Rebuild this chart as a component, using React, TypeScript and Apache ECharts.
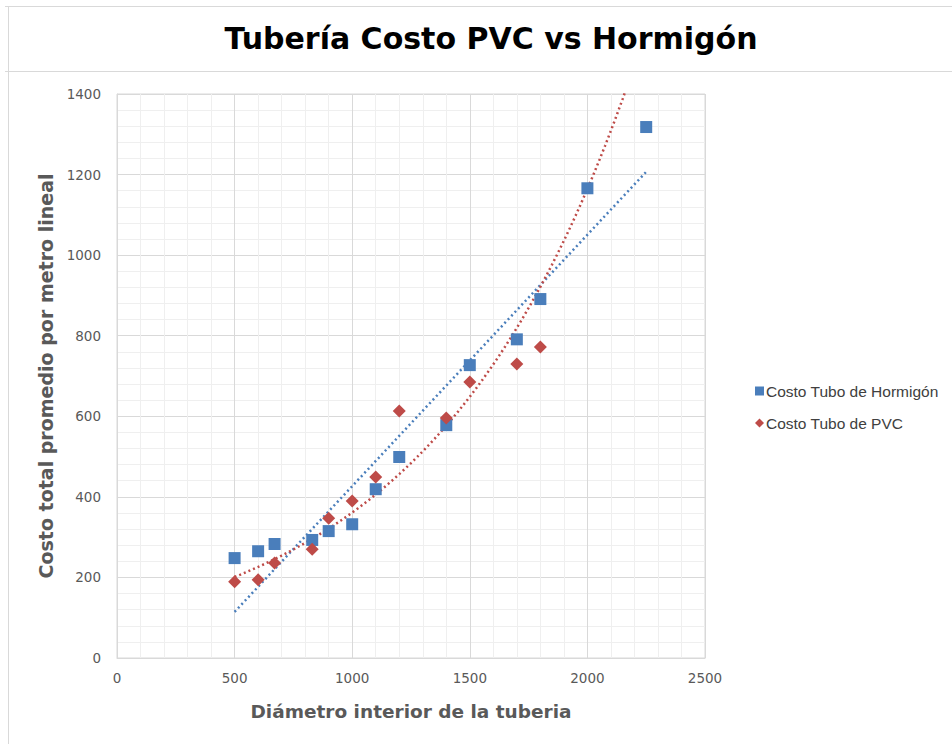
import React, { useEffect, useRef } from "react";
import * as echarts from "echarts";

const titleText = "Tubería Costo PVC vs Hormigón";
const xAxisTitle = "Diámetro interior de la tuberia";
const yAxisTitle = "Costo total promedio por metro lineal";
const seriesHormigon = "Costo Tubo de Hormigón";
const seriesPVC = "Costo Tubo de PVC";

const hormigonX = [500, 600, 670, 830, 900, 1000, 1100, 1200, 1400, 1500, 1700, 1800, 2000, 2250];
const hormigonY = [248, 265, 283, 293, 315, 332, 419, 499, 578, 727, 791, 891, 1166, 1318];

const pvcX = [500, 600, 670, 830, 900, 1000, 1100, 1200, 1400, 1500, 1700, 1800];
const pvcY = [189, 194, 236, 270, 347, 390, 449, 613, 596, 685, 730, 772];

const trendStart = 500;
const trendEnd = 2250;

function linearFit(xs: number[], ys: number[]) {
  const n = xs.length;
  const mx = xs.reduce((a, b) => a + b, 0) / n;
  const my = ys.reduce((a, b) => a + b, 0) / n;
  let sxy = 0, sxx = 0;
  for (let i = 0; i < n; i++) {
    sxy += (xs[i] - mx) * (ys[i] - my);
    sxx += (xs[i] - mx) * (xs[i] - mx);
  }
  const b = sxy / sxx;
  return { a: my - b * mx, b };
}

function expFit(xs: number[], ys: number[]) {
  const f = linearFit(xs, ys.map((v) => Math.log(v)));
  return (x: number) => Math.exp(f.a + f.b * x);
}

export default function App() {
  const ref = useRef<HTMLDivElement>(null);
  useEffect(() => {
    if (!ref.current) return;
    const chart = echarts.init(ref.current, undefined, { renderer: "svg" });
    const lin = linearFit(hormigonX, hormigonY);
    const linTrend = [
      [trendStart, lin.a + lin.b * trendStart],
      [trendEnd, lin.a + lin.b * trendEnd],
    ];
    const ef = expFit(pvcX, pvcY);
    const expTrend: number[][] = [];
    for (let i = 0; i <= 70; i++) {
      const x = trendStart + ((trendEnd - trendStart) * i) / 70;
      expTrend.push([x, ef(x)]);
    }
    const blue = "#4A7EBB";
    const red = "#BE4B48";
    const plain = (v: number) => String(v);
    chart.setOption({
      animation: false,
      backgroundColor: "#ffffff",
      title: {
        text: titleText,
        left: 486,
        textAlign: "center",
        top: 18,
        textStyle: {
          fontFamily: "DejaVu Sans",
          fontWeight: "bold",
          fontSize: 30,
          color: "#000000",
        },
      },
      graphic: [
        { type: "line", shape: { x1: 5, y1: 6.5, x2: 952, y2: 6.5 }, style: { stroke: "#d9d9d9", lineWidth: 1 } },
        { type: "line", shape: { x1: 5, y1: 71.5, x2: 952, y2: 71.5 }, style: { stroke: "#d9d9d9", lineWidth: 1 } },
        { type: "line", shape: { x1: 8.5, y1: 6, x2: 8.5, y2: 744 }, style: { stroke: "#d9d9d9", lineWidth: 1 } },
      ],
      legend: {
        orient: "vertical",
        left: 750,
        top: 378,
        itemGap: 16,
        itemWidth: 9,
        itemHeight: 9,
        data: [
          { name: seriesHormigon, icon: "rect" },
          { name: seriesPVC, icon: "diamond" },
        ],
        textStyle: { fontFamily: "Liberation Sans", fontSize: 15.5, color: "#404040", padding: [0, 0, 0, -3] },
      },
      grid: { left: 117, right: 247, top: 94, bottom: 86, show: true, borderColor: "#d9d9d9", borderWidth: 1 },
      xAxis: {
        type: "value",
        min: 0,
        max: 2500,
        interval: 500,
        name: xAxisTitle,
        nameLocation: "middle",
        nameGap: 44,
        nameTextStyle: { fontFamily: "DejaVu Sans", fontWeight: "bold", fontSize: 18.5, color: "#595959" },
        axisLine: { show: true, lineStyle: { color: "#d9d9d9" } },
        axisTick: { show: false },
        axisLabel: { fontFamily: "DejaVu Sans", fontSize: 13.5, color: "#595959", margin: 13, formatter: plain },
        splitLine: { show: true, lineStyle: { color: "#d9d9d9", width: 1 } },
        minorTick: { show: false, splitNumber: 5 },
        minorSplitLine: { show: true, lineStyle: { color: "#efefef", width: 1 } },
      },
      yAxis: {
        type: "value",
        min: 0,
        max: 1400,
        interval: 200,
        name: yAxisTitle,
        nameLocation: "middle",
        nameGap: 62,
        nameRotate: 90,
        nameTextStyle: { fontFamily: "DejaVu Sans", fontWeight: "bold", fontSize: 19, color: "#595959" },
        axisLine: { show: true, lineStyle: { color: "#d9d9d9" } },
        axisTick: { show: false },
        axisLabel: { fontFamily: "DejaVu Sans", fontSize: 13.5, color: "#595959", margin: 16, formatter: plain },
        splitLine: { show: true, lineStyle: { color: "#d9d9d9", width: 1 } },
        minorTick: { show: false, splitNumber: 5 },
        minorSplitLine: { show: true, lineStyle: { color: "#efefef", width: 1 } },
      },
      series: [
        {
          name: "trendHormigon",
          type: "line",
          data: linTrend,
          showSymbol: false,
          symbol: "none",
          clip: true,
          lineStyle: { color: blue, width: 2.5, type: [2, 3] },
          z: 2,
          silent: true,
        },
        {
          name: "trendPVC",
          type: "line",
          data: expTrend,
          showSymbol: false,
          symbol: "none",
          smooth: false,
          clip: true,
          lineStyle: { color: red, width: 2.5, type: [2, 3] },
          z: 2,
          silent: true,
        },
        {
          name: seriesHormigon,
          type: "scatter",
          symbol: "rect",
          symbolSize: 12,
          itemStyle: { color: blue, opacity: 1 },
          data: hormigonX.map((x, i) => [x, hormigonY[i]]),
          z: 3,
        },
        {
          name: seriesPVC,
          type: "scatter",
          symbol: "diamond",
          symbolSize: 13,
          itemStyle: { color: red, opacity: 1 },
          data: pvcX.map((x, i) => [x, pvcY[i]]),
          z: 4,
        },
      ],
    });
    return () => chart.dispose();
  }, []);
  return (
    <div
      ref={ref}
      style={{ position: "fixed", left: 0, top: 0, width: 952, height: 744, background: "#fff" }}
    />
  );
}
